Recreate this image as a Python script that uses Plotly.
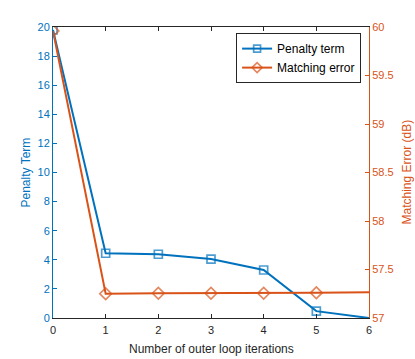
import plotly.graph_objects as go

BLUE = "#0072BD"
ORANGE = "#D95319"

iterations = [0, 1, 2, 3, 4, 5, 6]
penalty_term = [19.8, 4.45, 4.38, 4.05, 3.3, 0.47, 0.0]
matching_error = [59.96, 57.25, 57.255, 57.255, 57.255, 57.26, 57.265]

fig = go.Figure()
fig.add_trace(go.Scatter(x=iterations, y=penalty_term, name="Penalty term",
                         mode="lines+markers",
                         line=dict(color=BLUE, width=2),
                         marker=dict(symbol="square-open", size=[8] * 6 + [0],
                                     color=BLUE, line=dict(width=1.7, color=BLUE))))
fig.add_trace(go.Scatter(x=iterations, y=matching_error, name="Matching error",
                         mode="lines+markers", yaxis="y2",
                         line=dict(color=ORANGE, width=2),
                         marker=dict(symbol="diamond-open", size=[9] * 6 + [0],
                                     color=ORANGE, line=dict(width=1.7, color=ORANGE))))

font = dict(family="Liberation Sans, Arial, sans-serif", size=11)
fig.update_layout(
    width=415, height=359,
    margin=dict(l=53, r=46, t=27, b=41, autoexpand=False),
    paper_bgcolor="white", plot_bgcolor="white",
    font=font,
    showlegend=True,
    legend=dict(x=0.975, y=0.979, xanchor="right", yanchor="top",
                bgcolor="white", bordercolor="#262626", borderwidth=1,
                font=dict(size=12, color="#000000"),
                tracegroupgap=0, itemwidth=30),
    xaxis=dict(range=[0, 6], tickvals=iterations, showgrid=False, zeroline=False,
               automargin=False, ticklabelstandoff=2,
               showline=True, linecolor="#262626", linewidth=1, mirror="ticks",
               ticks="inside", ticklen=4, tickcolor="#262626",
               tickfont=dict(color="#262626", size=11)),
    yaxis=dict(range=[0, 20], dtick=2, showgrid=False, zeroline=False,
               automargin=False,
               showline=True, linecolor=BLUE, linewidth=1,
               ticks="inside", ticklen=4, tickcolor=BLUE,
               tickfont=dict(color=BLUE, size=11)),
    yaxis2=dict(range=[57, 60], dtick=0.5, overlaying="y", side="right",
                showgrid=False, zeroline=False, automargin=False,
                showline=True, linecolor=ORANGE, linewidth=1,
                ticks="inside", ticklen=4, tickcolor=ORANGE,
                tickfont=dict(color=ORANGE, size=11)),
)

# axis titles as annotations, placed by hand
fig.add_annotation(text="Number of outer loop iterations", xref="paper", yref="paper",
                   x=0.5, y=0, xanchor="center", yanchor="middle", yshift=-31,
                   showarrow=False, font=dict(color="#262626", size=12))
fig.add_annotation(text="Penalty Term", xref="paper", yref="paper", x=0, y=0.5,
                   xanchor="center", yanchor="middle", xshift=-28, textangle=-90,
                   showarrow=False, font=dict(color=BLUE, size=12))
fig.add_annotation(text="Matching Error (dB)", xref="paper", yref="paper", x=1, y=0.5,
                   xanchor="center", yanchor="middle", xshift=37, textangle=-90,
                   showarrow=False, font=dict(color=ORANGE, size=12))

# drop the default 8px body margin so the figure sits at the window's corner
fig.write_html("out.html", config={"displayModeBar": False},
               post_script="document.body.style.margin='0';"
                           "document.body.style.overflow='hidden';")
